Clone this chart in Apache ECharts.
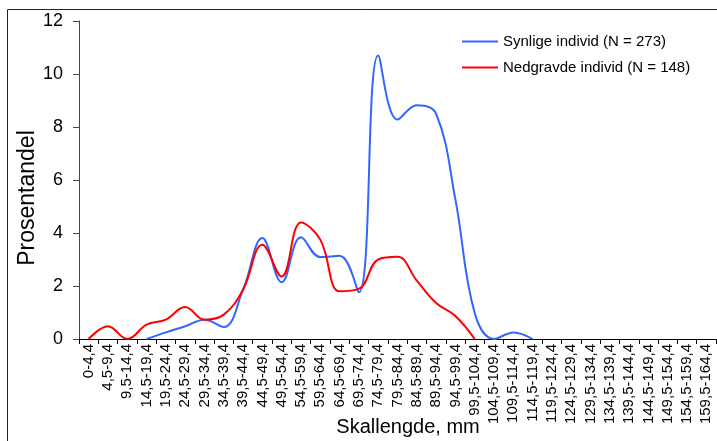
<!DOCTYPE html>
<html>
<head>
<meta charset="utf-8">
<script src="https://cdn.jsdelivr.net/npm/echarts@6/dist/echarts.min.js"></script>
<style>html,body{margin:0;padding:0;background:#fff;}#c{width:717px;height:441px;}</style>
</head>
<body>
<div id="c"></div>
<script>
var categories = ["0-4,4","4,5-9,4","9,5-14,4","14,5-19,4","19,5-24,4","24,5-29,4","29,5-34,4","34,5-39,4","39,5-44,4","44,5-49,4","49,5-54,4","54,5-59,4","59,5-64,4","64,5-69,4","69,5-74,4","74,5-79,4","79,5-84,4","84,5-89,4","89,5-94,4","94,5-99,4","99,5-104,4","104,5-109,4","109,5-114,4","114,5-119,4","119,5-124,4","124,5-129,4","129,5-134,4","134,5-139,4","139,5-144,4","144,5-149,4","149,5-154,4","154,5-159,4","159,5-164,4"];
var synlige = [null,null,null,0,0.25,0.48,0.73,0.45,1.86,3.81,2.14,3.84,3.09,3.14,1.76,10.7,8.28,8.82,8.5,5.26,0.98,0,0.25,0,null,null,null,null,null,null,null,null,null];
var nedgravde = [0,0.48,0,0.54,0.73,1.21,0.73,0.92,1.86,3.56,2.36,4.4,3.75,1.8,1.89,3.0,3.1,2.2,1.36,0.87,0,null,null,null,null,null,null,null,null,null,null,null,null];
var seriesNames = ["Synlige individ (N = 273)", "Nedgravde individ (N = 148)"];
var yTicks = {min: 0, max: 12, interval: 2};
var yTitle = "Prosentandel";
var xTitle = "Skallengde, mm";

var font = "Liberation Sans, Arial, sans-serif";
var chart = echarts.init(document.getElementById('c'), null, {renderer: 'canvas'});
chart.setOption({
  animation: false,
  backgroundColor: '#fff',
  textStyle: {fontFamily: font},
  graphic: [{
    type: 'rect', silent: true, z: -1,
    shape: {x: 7.5, y: 9.5, width: 800, height: 600},
    style: {fill: 'none', stroke: '#222', lineWidth: 1}
  }, {
    type: 'text', silent: true, x: 28, y: 198, rotation: Math.PI / 2,
    style: {text: yTitle, fontSize: 23, fill: '#000', fontFamily: font, align: 'center', verticalAlign: 'middle'}
  }, {
    type: 'text', silent: true, x: 408, y: 427,
    style: {text: xTitle, fontSize: 20, fill: '#000', fontFamily: font, align: 'center', verticalAlign: 'middle'}
  }],
  grid: {left: 79, right: 1, top: 21, bottom: 102, containLabel: false},
  legend: {
    orient: 'vertical', left: 462, top: 34, padding: 0,
    icon: 'rect', itemWidth: 36, itemHeight: 2, itemGap: 11,
    textStyle: {fontSize: 15, color: '#000', fontFamily: font},
    data: seriesNames
  },
  xAxis: {
    type: 'category', data: categories, boundaryGap: true,
    axisLine: {lineStyle: {color: '#000', width: 1}},
    axisTick: {show: true, length: 5, alignWithLabel: false, interval: 0, lineStyle: {color: '#000'}},
    axisLabel: {rotate: 90, interval: 0, fontSize: 15, color: '#000', margin: 5, fontFamily: font},
    splitLine: {show: false}
  },
  yAxis: {
    type: 'value', min: yTicks.min, max: yTicks.max, interval: yTicks.interval,
    axisLine: {show: true, lineStyle: {color: '#444', width: 1}},
    axisTick: {show: true, length: 6, lineStyle: {color: '#444'}},
    axisLabel: {fontSize: 18, color: '#000', margin: 16, fontFamily: font},
    splitLine: {show: false}
  },
  series: [{
    name: seriesNames[0], type: 'line', data: synlige, smooth: 0.4,
    symbol: 'none', connectNulls: false,
    lineStyle: {color: '#3366FF', width: 2}, itemStyle: {color: '#3366FF'}
  }, {
    name: seriesNames[1], type: 'line', data: nedgravde, smooth: 0.4,
    symbol: 'none', connectNulls: false,
    lineStyle: {color: '#FF0000', width: 2}, itemStyle: {color: '#FF0000'}
  }]
});
</script>
</body>
</html>
